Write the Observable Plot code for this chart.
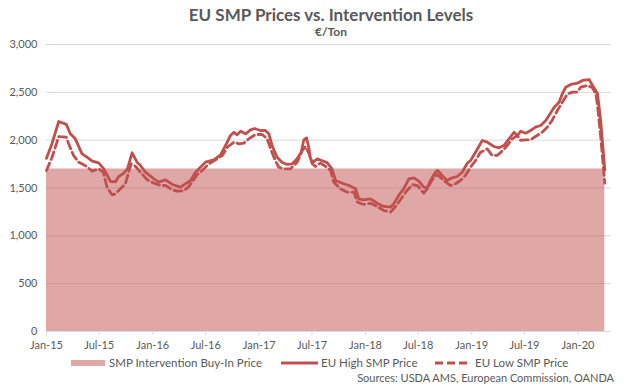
<!DOCTYPE html>
<html><head><meta charset="utf-8">
<script src="https://cdn.jsdelivr.net/npm/d3@7"></script>
<script src="https://cdn.jsdelivr.net/npm/@observablehq/plot@0.6"></script>
<style>
body{margin:0;background:#fff;font-family:Lato,"Open Sans",sans-serif;color:#595959}
#wrap{position:relative;width:625px;height:386px;overflow:hidden;background:#fff}
.abs{position:absolute;white-space:nowrap}
#title{left:0;width:662px;top:5px;text-align:center;font-size:17px;font-weight:bold;line-height:20px}
#sub{left:0;width:662px;top:24px;text-align:center;font-size:12px;font-weight:bold;line-height:16px}
#chart{position:absolute;left:0;top:36px}
.leg{font-size:11.5px;line-height:14px;top:356px}
#src{right:11px;top:371px;font-size:11px;line-height:14px}
</style></head>
<body><div id="wrap">
<div id="title" class="abs">EU SMP Prices vs. Intervention Levels</div>
<div id="sub" class="abs">€/Ton</div>
<div id="chart"></div>
<svg class="abs" style="left:0;top:352px" width="625" height="22">
  <rect x="71" y="8" width="34" height="6" fill="#c0504d" fill-opacity="0.5"></rect>
  <line x1="281" x2="318" y1="11" y2="11" stroke="#c0504d" stroke-width="3"></line>
  <line x1="435" x2="471" y1="11" y2="11" stroke="#c0504d" stroke-width="3" stroke-dasharray="8,4"></line>
</svg>
<div class="abs leg" id="l1" style="left:109px">SMP Intervention Buy-In Price</div>
<div class="abs leg" id="l2" style="left:321px">EU High SMP Price</div>
<div class="abs leg" id="l3" style="left:475px">EU Low SMP Price</div>
<div class="abs" id="src">Sources: USDA AMS, European Commission, OANDA</div>
</div>
<script>
const seriesNames = ["SMP Intervention Buy-In Price", "EU High SMP Price", "EU Low SMP Price"];
const yTicks = [0, 500, 1000, 1500, 2000, 2500, 3000];
const xTickDates = ["2015-01-01","2015-07-01","2016-01-01","2016-07-01","2017-01-01","2017-07-01","2018-01-01","2018-07-01","2019-01-01","2019-07-01","2020-01-01"];
const xDomain = ["2015-01-01", "2020-04-25"];

const intervention = [["2015-01-01",1698],["2020-04-02",1698]];

const highPrice = [
["2015-01-01",1810],["2015-01-20",1965],["2015-02-12",2195],["2015-03-10",2165],["2015-03-24",2066],
["2015-04-10",2014],["2015-05-03",1857],["2015-05-20",1822],["2015-06-07",1780],["2015-06-29",1763],
["2015-07-17",1700],["2015-08-09",1568],["2015-08-26",1565],["2015-09-06",1620],["2015-09-22",1650],
["2015-10-06",1700],["2015-10-22",1868],["2015-11-08",1770],["2015-11-20",1735],["2015-12-07",1665],
["2016-01-05",1596],["2016-01-22",1561],["2016-02-14",1586],["2016-03-08",1537],["2016-04-05",1509],
["2016-05-10",1578],["2016-05-27",1665],["2016-06-13",1717],["2016-06-30",1770],["2016-07-29",1795],
["2016-08-21",1847],["2016-09-07",1944],["2016-09-24",2049],["2016-10-06",2083],["2016-10-17",2056],
["2016-10-29",2094],["2016-11-15",2066],["2016-12-02",2108],["2016-12-16",2122],["2017-01-05",2101],
["2017-01-22",2101],["2017-02-03",2066],["2017-02-14",1944],["2017-03-03",1822],["2017-03-20",1770],
["2017-04-06",1746],["2017-04-24",1753],["2017-05-11",1805],["2017-05-25",1874],["2017-06-03",2004],
["2017-06-12",2024],["2017-06-20",1926],["2017-06-26",1805],["2017-07-05",1770],["2017-07-19",1805],
["2017-08-05",1785],["2017-08-22",1765],["2017-09-08",1700],["2017-09-20",1578],["2017-10-13",1550],
["2017-11-05",1526],["2017-11-28",1491],["2017-12-09",1387],["2017-12-26",1377],["2018-01-18",1387],
["2018-02-10",1341],["2018-03-05",1307],["2018-03-28",1299],["2018-04-08",1335],["2018-04-25",1422],
["2018-05-12",1491],["2018-05-30",1596],["2018-06-16",1606],["2018-07-03",1571],["2018-07-20",1509],
["2018-08-01",1502],["2018-08-12",1578],["2018-08-29",1665],["2018-09-06",1683],["2018-09-21",1631],
["2018-10-08",1578],["2018-10-26",1606],["2018-11-12",1620],["2018-11-29",1665],["2018-12-16",1756],
["2018-12-28",1787],["2019-01-14",1874],["2019-02-06",1997],["2019-02-23",1979],["2019-03-18",1934],
["2019-04-04",1920],["2019-04-21",1944],["2019-05-09",2014],["2019-05-26",2083],["2019-06-07",2049],
["2019-06-18",2094],["2019-07-05",2073],["2019-07-22",2101],["2019-08-08",2136],["2019-08-26",2153],
["2019-09-12",2206],["2019-09-27",2276],["2019-10-11",2345],["2019-10-28",2397],["2019-11-08",2485],
["2019-11-20",2554],["2019-12-07",2582],["2019-12-30",2596],["2020-01-16",2624],["2020-02-08",2634],
["2020-02-20",2572],["2020-03-08",2485],["2020-03-19",2200],["2020-04-02",1690]
];

const lowPrice = [
["2015-01-01",1683],["2015-01-20",1822],["2015-02-12",2038],["2015-03-10",2031],["2015-03-18",1962],
["2015-04-04",1840],["2015-04-21",1770],["2015-05-14",1735],["2015-06-07",1676],["2015-06-29",1700],
["2015-07-15",1665],["2015-07-28",1509],["2015-08-14",1429],["2015-08-26",1439],["2015-09-12",1491],
["2015-09-29",1544],["2015-10-10",1665],["2015-10-19",1753],["2015-11-03",1725],["2015-11-20",1665],
["2015-12-13",1586],["2016-01-05",1550],["2016-01-28",1526],["2016-02-14",1526],["2016-03-08",1481],
["2016-03-25",1467],["2016-04-17",1472],["2016-05-04",1515],["2016-06-02",1641],["2016-06-19",1683],
["2016-07-12",1753],["2016-08-04",1795],["2016-08-27",1840],["2016-09-13",1926],["2016-10-06",1979],
["2016-10-23",1962],["2016-11-09",1969],["2016-11-26",2014],["2016-12-19",2059],["2017-01-11",2059],
["2017-01-28",2014],["2017-02-11",1892],["2017-02-25",1787],["2017-03-09",1717],["2017-03-26",1700],
["2017-04-18",1700],["2017-05-11",1770],["2017-05-29",1892],["2017-06-09",1934],["2017-06-20",1864],
["2017-07-02",1753],["2017-07-13",1725],["2017-07-30",1760],["2017-08-17",1725],["2017-09-03",1683],
["2017-09-14",1561],["2017-10-07",1491],["2017-10-30",1456],["2017-11-22",1456],["2017-12-04",1352],
["2017-12-26",1328],["2018-01-18",1341],["2018-02-10",1307],["2018-03-05",1265],["2018-03-28",1247],
["2018-04-14",1307],["2018-05-01",1377],["2018-05-19",1456],["2018-06-11",1537],["2018-06-28",1526],
["2018-07-20",1446],["2018-08-01",1491],["2018-08-18",1586],["2018-09-04",1641],["2018-09-27",1578],
["2018-10-20",1526],["2018-11-06",1544],["2018-11-23",1578],["2018-12-10",1631],["2018-12-28",1720],
["2019-01-14",1787],["2019-01-31",1874],["2019-02-23",1909],["2019-03-12",1840],["2019-03-29",1840],
["2019-04-15",1885],["2019-05-03",1944],["2019-05-20",2014],["2019-06-07",2049],["2019-06-18",1997],
["2019-07-05",2004],["2019-07-22",2004],["2019-08-08",2038],["2019-08-31",2083],["2019-09-17",2136],
["2019-10-04",2206],["2019-10-22",2310],["2019-11-08",2397],["2019-11-26",2485],["2019-12-13",2502],
["2019-12-30",2502],["2020-01-10",2554],["2020-02-02",2572],["2020-02-20",2547],["2020-03-02",2485],
["2020-03-08",2362],["2020-03-19",2031],["2020-04-02",1550]
];

const parse = d3.utcParse("%Y-%m-%d");
const toRows = arr => arr.map(([d, v]) => ({date: parse(d), value: v}));
const red = "#c0504d";
const grid = "#d9d9d9";

const chart = Plot.plot({
  width: 625,
  height: 319,
  marginLeft: 46,
  marginRight: 14,
  marginTop: 8,
  marginBottom: 24,
  style: {fontFamily: "Lato, 'Open Sans', sans-serif", fontSize: "11px", color: "#595959", background: "transparent"},
  x: {type: "utc", domain: xDomain.map(parse), label: null},
  y: {domain: [0, 3000], label: null},
  marks: [
    Plot.gridY(yTicks, {stroke: grid, strokeOpacity: 1, strokeWidth: 1}),
    Plot.areaY(toRows(intervention), {x: "date", y: "value", fill: red, fillOpacity: 0.5}),
    Plot.ruleY([0], {stroke: grid, strokeWidth: 1}),
    Plot.axisY(yTicks, {tickSize: 0, tickPadding: 9, tickFormat: d3.format(","), fill: "#595959", fontSize: 11, label: null}),
    Plot.axisX(xTickDates.map(parse), {tickSize: 4, tickPadding: 6, stroke: grid, tickFormat: d3.utcFormat("%b-%y"), fill: "#595959", fontSize: 11, label: null}),
    Plot.line(toRows(lowPrice), {x: "date", y: "value", stroke: red, strokeWidth: 2.8, strokeDasharray: "8,4", strokeLinejoin: "round"}),
    Plot.line(toRows(highPrice), {x: "date", y: "value", stroke: red, strokeWidth: 2.8, strokeLinejoin: "round"})
  ]
});
document.getElementById("chart").appendChild(chart);
</script>
</body></html>
